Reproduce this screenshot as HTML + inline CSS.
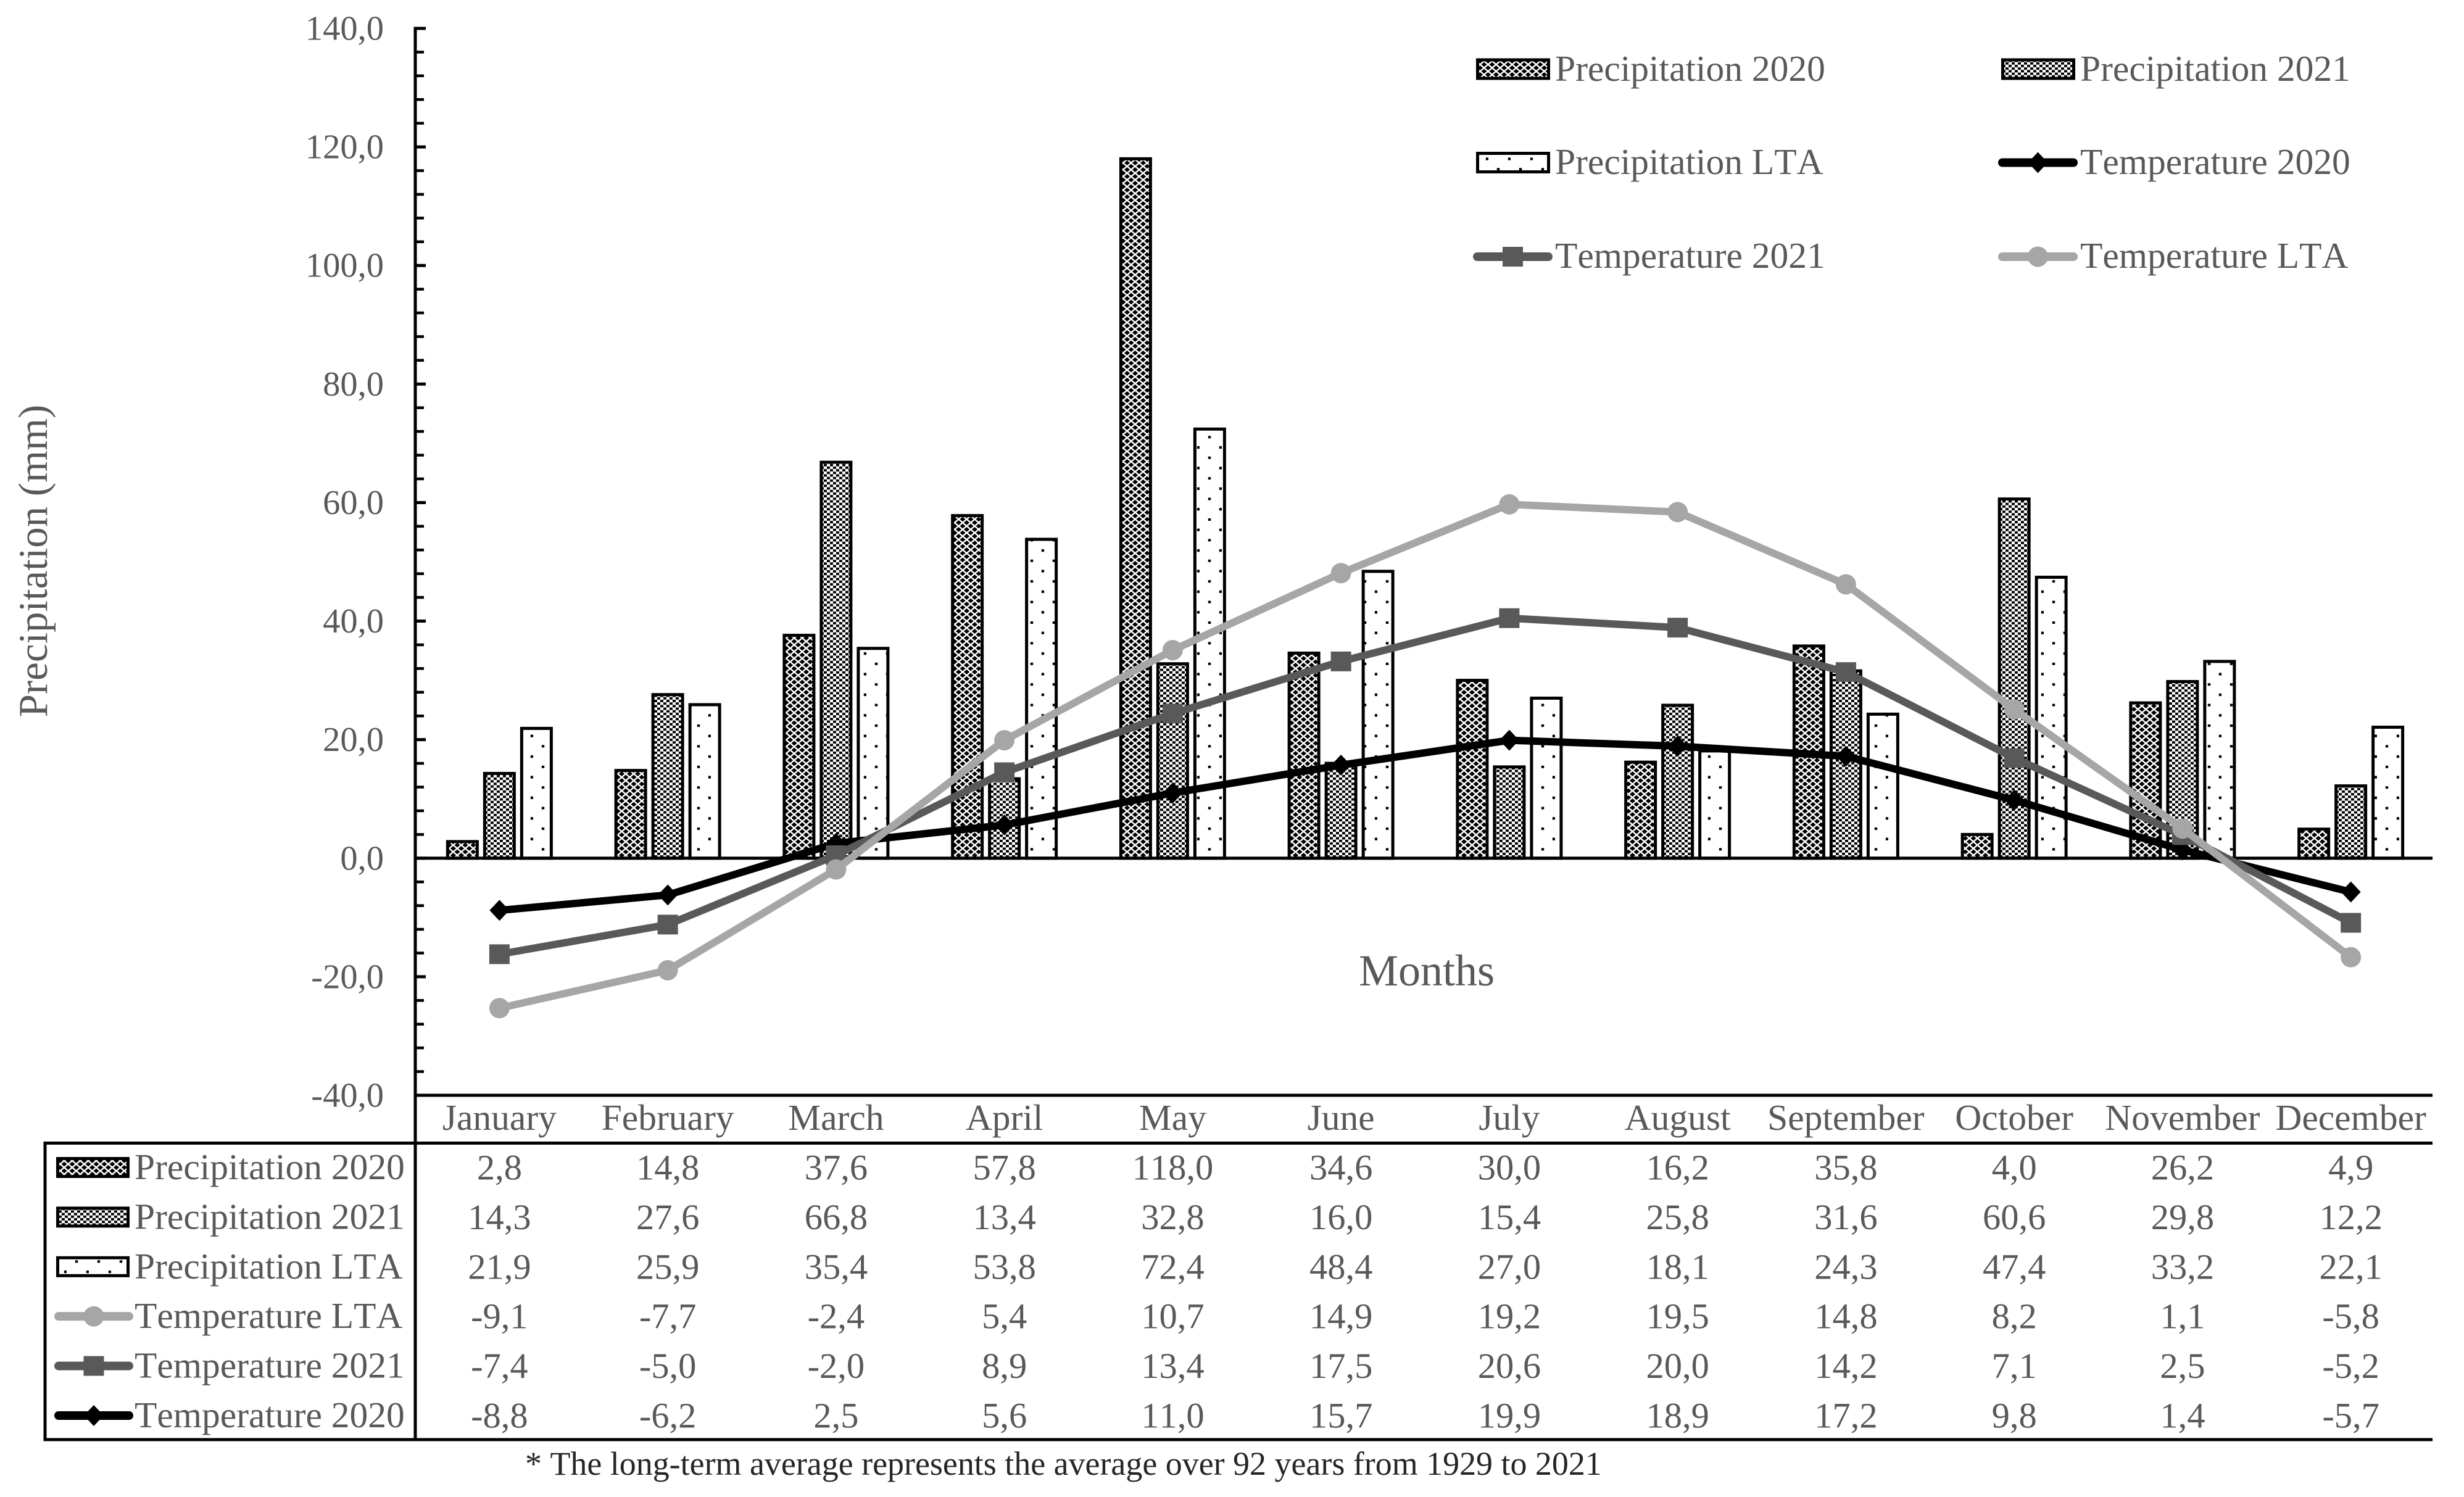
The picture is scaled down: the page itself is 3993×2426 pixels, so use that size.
<!DOCTYPE html>
<html lang="en">
<head>
<meta charset="utf-8">
<title>Precipitation and temperature chart</title>
<style>
html,body{margin:0;padding:0;background:#fff;width:3993px;height:2426px;overflow:hidden}
svg{display:block}
text{font-family:"Liberation Serif","Times New Roman",serif;fill:#595959;font-kerning:none}
</style>
</head>
<body>
<svg id="chart" xmlns="http://www.w3.org/2000/svg" width="3993" height="2426" viewBox="0 0 3993 2426">
  <defs>
    <pattern id="pat-2020" patternUnits="userSpaceOnUse" width="13" height="11">
      <rect width="13" height="11" fill="#000"/>
      <path d="M0 0L6.5 5.5L13 0M0 11L6.5 5.5L13 11" stroke="#fff" stroke-width="2.4" fill="none"/>
    </pattern>
    <pattern id="pat-2021" patternUnits="userSpaceOnUse" width="10" height="8.4">
      <rect width="10" height="8.4" fill="#fff"/>
      <rect x="0" y="0" width="4.9" height="3.9" fill="#000"/>
      <rect x="5" y="4.2" width="4.9" height="3.9" fill="#000"/>
    </pattern>
    <pattern id="pat-lta" patternUnits="userSpaceOnUse" width="36" height="33.4">
      <rect width="36" height="33.4" fill="#fff"/>
      <rect x="31.8" y="21.6" width="4.2" height="4.2" fill="#000"/>
      <rect x="13.8" y="5" width="4.4" height="4" fill="#000"/>
    </pattern>
  </defs>
  <g id="bars"></g>
  <g id="axes"></g>
  <g id="lines"></g>
  <g id="legend"></g>
  <g id="table"></g>
  <text transform="translate(76 909) rotate(-90)" text-anchor="middle" font-size="66.8">Precipitation (mm)</text>
  <text x="2312" y="1597" text-anchor="middle" font-size="72">Months</text>
  <text x="851" y="2390" font-size="53.95" style="fill:#262626">* The long-term average represents the average over 92 years from 1929 to 2021</text>
</svg>
<script>
const months = ['January','February','March','April','May','June','July','August','September','October','November','December'];
const precip2020 = [2.8,14.8,37.6,57.8,118.0,34.6,30.0,16.2,35.8,4.0,26.2,4.9];
const precip2021 = [14.3,27.6,66.8,13.4,32.8,16.0,15.4,25.8,31.6,60.6,29.8,12.2];
const precipLTA = [21.9,25.9,35.4,53.8,72.4,48.4,27.0,18.1,24.3,47.4,33.2,22.1];
const temp2020 = [-8.8,-6.2,2.5,5.6,11.0,15.7,19.9,18.9,17.2,9.8,1.4,-5.7];
const temp2021 = [-7.4,-5.0,-2.0,8.9,13.4,17.5,20.6,20.0,14.2,7.1,2.5,-5.2];
const tempLTA = [-9.1,-7.7,-2.4,5.4,10.7,14.9,19.2,19.5,14.8,8.2,1.1,-5.8];
const yTickValues = [140,120,100,80,60,40,20,0,-20,-40];

const NS = 'http://www.w3.org/2000/svg';
const plotLeft = 673, plotRight = 3942, plotTop = 46, plotBottom = 1775;
const yMax = 140, yMin = -40;
const colW = (plotRight + 4 - plotLeft) / months.length;
function xScale(i){ return plotLeft + colW * (i + 0.5); }
function yScale(v){ return plotTop + (yMax - v) / (yMax - yMin) * (plotBottom - plotTop); }
function fmt(v){ return v.toFixed(1).replace('.', ','); }
function mk(parent, tag, attrs, txt){
  const el = document.createElementNS(NS, tag);
  for (const k in attrs) el.setAttribute(k, attrs[k]);
  if (txt !== undefined) el.textContent = txt;
  parent.appendChild(el);
  return el;
}
const barsG = document.getElementById('bars');
const axesG = document.getElementById('axes');
const linesG = document.getElementById('lines');
const legendG = document.getElementById('legend');
const tableG = document.getElementById('table');

/* bars */
const barOffsets = [-60, 0, 60];
const barSeries = [precip2020, precip2021, precipLTA];
const barFills = ['url(#pat-2020)','url(#pat-2021)','url(#pat-lta)'];
const barKeys = ['2020','2021','lta'];
barSeries.forEach(function(vals, s){
  vals.forEach(function(v, i){
    const y = yScale(v), y0 = yScale(0);
    const r = mk(barsG, 'rect', {x: xScale(i) + barOffsets[s] - 24, y: y, width: 48, height: y0 - y, fill: barFills[s], stroke: '#000', 'stroke-width': 5});
    
    
  });
});

/* axes */
function hLine(parent, x1, x2, y, name){
  const l = mk(parent, 'line', {x1: x1, x2: x2, y1: y, y2: y, stroke: '#000', 'stroke-width': 5});
  
  
}
function vLine(parent, x, y1, y2, name){
  const l = mk(parent, 'line', {x1: x, x2: x, y1: y1, y2: y2, stroke: '#000', 'stroke-width': 5});
  
  
}
vLine(axesG, plotLeft, plotTop - 2.5, 2335, 'y-axis-line');
hLine(axesG, plotLeft, plotRight, yScale(0), 'zero-line');
hLine(axesG, plotLeft, plotRight, plotBottom, 'table-top-line');
for (let v = yMin; v <= yMax; v += 4) {
  const major = v % 20 === 0;
  const t = mk(axesG, 'line', {x1: plotLeft, x2: plotLeft + (major ? 17 : 14), y1: yScale(v), y2: yScale(v), stroke: '#000', 'stroke-width': major ? 5 : 4.5});
  
  
}
yTickValues.forEach(function(v){
  const t = mk(axesG, 'text', {x: 622, y: yScale(v) + 18.5, 'text-anchor': 'end', 'font-size': 56.5}, fmt(v));
  
  
});

/* stacked temperature lines */
const lineSeries = [temp2020, temp2021, tempLTA];
const lineColors = ['#000000', '#595959', '#a6a6a6'];
const lineKeys = ['2020', '2021', 'lta'];
const running = months.map(function(){ return 0; });
function marker(parent, kind, cx, cy, color){
  if (kind === 0) return mk(parent, 'polygon', {points: (cx-16)+','+cy+' '+cx+','+(cy-17)+' '+(cx+16)+','+cy+' '+cx+','+(cy+17), fill: color});
  if (kind === 1) return mk(parent, 'rect', {x: cx-16.5, y: cy-16, width: 33, height: 32, fill: color});
  return mk(parent, 'circle', {cx: cx, cy: cy, r: 16.5, fill: color});
}
lineSeries.forEach(function(vals, s){
  const pts = vals.map(function(v, i){
    running[i] += v;
    return {x: xScale(i), y: yScale(running[i])};
  });
  const p = mk(linesG, 'polyline', {points: pts.map(function(q){ return q.x + ',' + q.y; }).join(' '), fill: 'none', stroke: lineColors[s], 'stroke-width': 12, 'stroke-linejoin': 'round', 'stroke-linecap': 'round'});
  
  
  pts.forEach(function(q, i){
    const m = marker(linesG, s, q.x, q.y, lineColors[s]);
    
    
  });
});

/* legend */
function swatchBar(parent, x, y, w, h, fill){
  return mk(parent, 'rect', {x: x + 2.5, y: y + 2.5, width: w - 5, height: h - 5, fill: fill, stroke: '#000', 'stroke-width': 5});
}
function swatchLine(parent, x1, x2, cy, kind, color){
  const g = mk(parent, 'g', {});
  mk(g, 'line', {x1: x1 + 7, x2: x2 - 7, y1: cy, y2: cy, stroke: color, 'stroke-width': 14, 'stroke-linecap': 'round'});
  marker(g, kind, (x1 + x2) / 2, cy, color);
  return g;
}
const legendNames = ['Precipitation 2020','Precipitation 2021','Precipitation LTA','Temperature 2020','Temperature 2021','Temperature LTA'];
const legendKinds = [['bar',0],['bar',1],['bar',2],['line',0],['line',1],['line',2]];
const legendColX = [2392, 3243];
const legendRowC = [112, 263.5, 416];
const legendRowB = [131, 282, 434];
legendNames.forEach(function(name, i){
  const col = i % 2, row = Math.floor(i / 2);
  const x = legendColX[col];
  const k = legendKinds[i];
  const sw = k[0] === 'bar'
    ? swatchBar(legendG, x, legendRowC[row] - 17.5, 120, 35, barFills[k[1]])
    : swatchLine(legendG, x - 5, x + 124, legendRowC[row], k[1], lineColors[k[1]]);
  
  
  const t = mk(legendG, 'text', {x: x + 128, y: legendRowB[row], 'font-size': 59.5}, name);
  
  
});

/* data table */
const tableLeft = 73, tableTop = 1852.5, tableBottom = 2333;
hLine(tableG, tableLeft - 2.5, plotRight, tableTop, 'table-header-line');
hLine(tableG, tableLeft - 2.5, plotRight, tableBottom, 'table-bottom-line');
vLine(tableG, tableLeft, tableTop, tableBottom + 2.5, 'table-left-line');
months.forEach(function(m, i){
  const t = mk(tableG, 'text', {x: xScale(i), y: 1831, 'text-anchor': 'middle', 'font-size': 59.5}, m);
  
  
});
const tableNames = ['Precipitation 2020','Precipitation 2021','Precipitation LTA','Temperature LTA','Temperature 2021','Temperature 2020'];
const tableSeries = [precip2020, precip2021, precipLTA, tempLTA, temp2021, temp2020];
const tableKinds = [['bar',0],['bar',1],['bar',2],['line',2],['line',1],['line',0]];
const rowH = 80.4;
tableNames.forEach(function(name, r){
  const c = 1892 + rowH * r;
  const k = tableKinds[r];
  const sw = k[0] === 'bar'
    ? swatchBar(tableG, 91, c - 17, 119, 34, barFills[k[1]])
    : swatchLine(tableG, 88, 216, c, k[1], lineColors[k[1]]);
  
  
  const lab = mk(tableG, 'text', {x: 218, y: c + 19, 'font-size': 59.5}, name);
  
  
  tableSeries[r].forEach(function(v, i){
    const t = mk(tableG, 'text', {x: xScale(i), y: c + 19.5, 'text-anchor': 'middle', 'font-size': 58.5}, fmt(v));
    
    
  });
});
</script>
</body>
</html>
